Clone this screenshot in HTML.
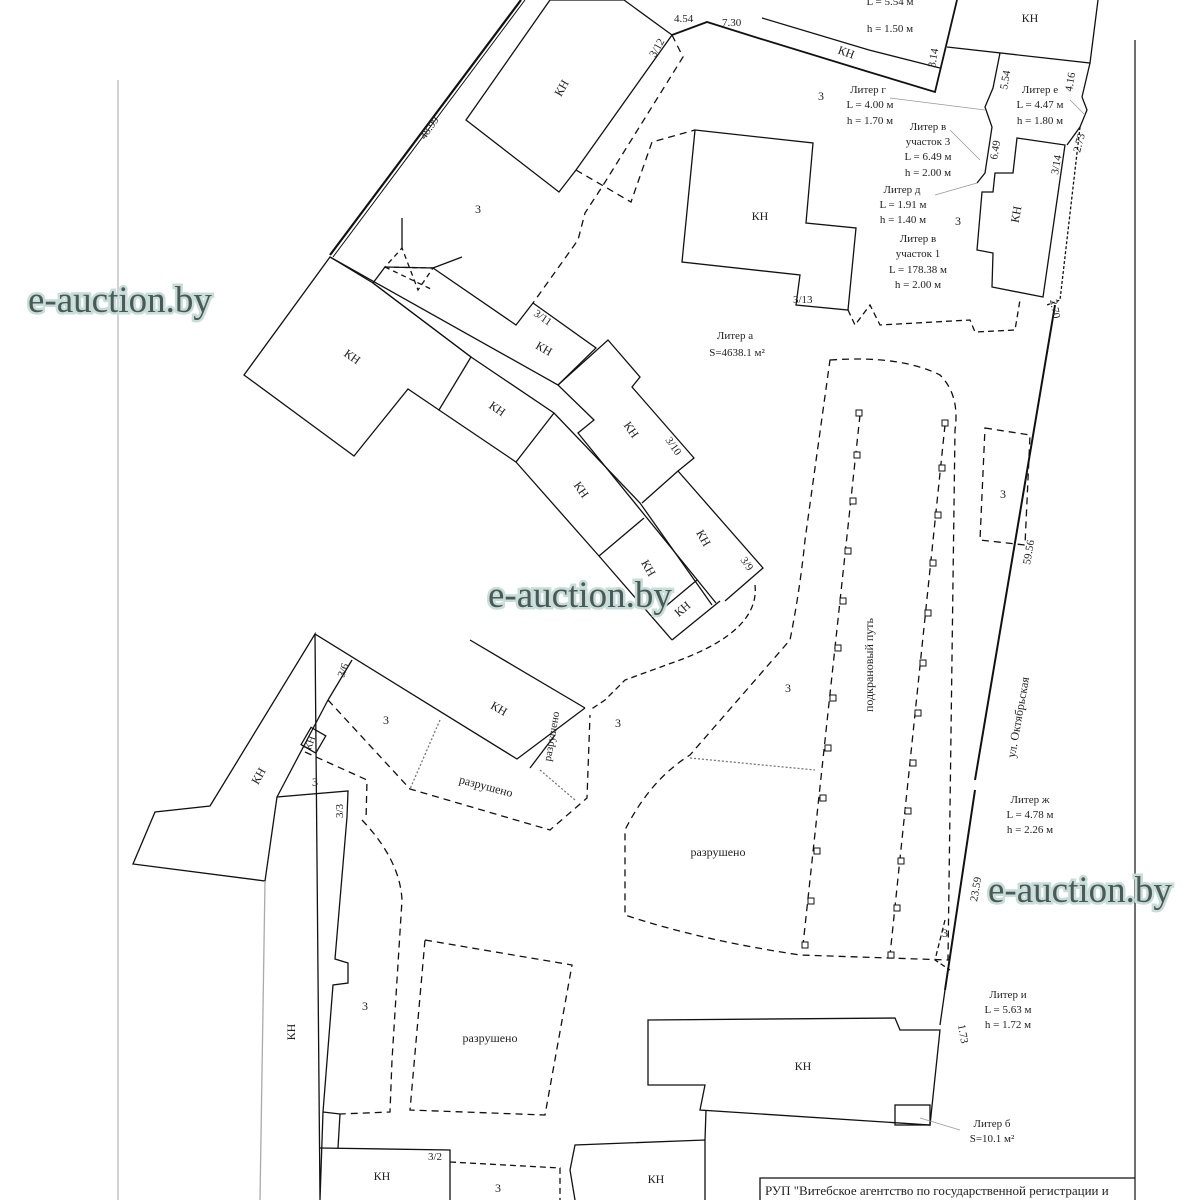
<!DOCTYPE html>
<html><head><meta charset="utf-8"><style>
html,body{margin:0;padding:0;background:#fff}
svg{display:block}
text{font-family:"Liberation Serif",serif;fill:#222}
.wm{font-family:"Liberation Serif",serif;font-size:37px;fill:#4a5a58;stroke:#c8dcd8;stroke-width:5px;paint-order:stroke}
</style></head><body>
<svg width="1200" height="1200" viewBox="0 0 1200 1200" xmlns="http://www.w3.org/2000/svg">
<rect width="1200" height="1200" fill="#fff"/>
<g fill="none" stroke="#111" stroke-width="1.3">
<line x1="118" y1="80" x2="118" y2="1200" stroke="#bbb"/>
<line x1="1135" y1="40" x2="1135" y2="1200" stroke="#222"/>
<line x1="521" y1="0" x2="330" y2="255" stroke-width="2.2"/>
<line x1="525" y1="0" x2="333" y2="257" stroke-width="1"/>
<polygon points="550,0 466,120 559,192 576,170 672,35 624,0"/>
<polyline points="672,35 707,22 758,38 869,72 935,92 957,0" stroke-width="1.8"/>
<polyline points="762,18 869,50 940,68"/>
<polyline points="947,47 1090,63 1098,0"/>
<line x1="1090" y1="63" x2="1082" y2="97"/>
<polyline points="672,35 683,57 602,187 585,213 578,240 533,303" stroke-dasharray="7,5"/>
<polyline points="576,170 631,202 652,142 695,130" stroke-dasharray="7,5"/>
<polygon points="695,130 813,143 806,223 856,228 848,310 796,305 800,275 682,262"/>
<polygon points="1017,138 1065,145 1043,297 992,287 993,253 977,250 982,192 993,192 995,173 1013,173"/>
<polyline points="1000,53 993,88 985,107 992,127 985,173 977,183"/>
<polyline points="1082,97 1087,110 1080,127 1067,145"/>
<polyline points="1080,127 1060,300 1047,305" stroke-dasharray="3,2"/>
<line x1="1055" y1="305" x2="975" y2="780" stroke-width="2"/>
<line x1="975" y1="790" x2="945" y2="990" stroke-width="2"/>
<line x1="945" y1="990" x2="940" y2="1025"/>
<polyline points="848,310 855,325 870,305 880,325 970,320 975,332 1015,330 1020,300" stroke-dasharray="6,4"/>
<!-- left KH big -->
<polygon points="330,257 373,283 471,357 439,410 408,389 354,456 244,375"/>
<polyline points="330,257 558,385 594,420 578,433 716,603"/>
<polyline points="373,283 471,357 554,413 640,503 712,605"/>
<polyline points="385,267 433,268 516,325 533,303 596,348 558,385"/>
<line x1="373" y1="283" x2="385" y2="267"/>
<polygon points="385,267 433,268 418,290 402,248" stroke-dasharray="5,4"/>
<line x1="385" y1="267" x2="433" y2="290" stroke-dasharray="5,4"/>
<line x1="402" y1="248" x2="402" y2="218"/>
<line x1="433" y1="268" x2="462" y2="257"/>
<polyline points="439,410 516,462 554,413"/>
<polyline points="516,462 599,556 672,640"/>
<polyline points="558,385 608,340 640,377 632,387 694,458 678,471 642,503"/>
<polyline points="678,471 763,568 725,601"/>
<line x1="644" y1="518" x2="599" y2="556"/>
<line x1="697" y1="580" x2="654" y2="616"/>
<line x1="720" y1="601" x2="672" y2="640"/>
<path d="M755,585 Q760,630 680,660 L625,680 605,700 590,710" stroke-dasharray="6,4"/>
<polyline points="470,640 585,708"/>
<polyline points="315,634 517,759 585,708"/>
<line x1="352" y1="660" x2="328" y2="700"/>
<line x1="555" y1="735" x2="530" y2="768"/>
<polygon points="315,634 210,806 155,812 133,864 265,881 277,797 348,791 347,817 335,959 348,963 348,983 333,985 323,1112 320,1200"/>
<line x1="328" y1="700" x2="277" y2="797"/>
<rect x="305" y="730" width="17" height="20" transform="rotate(30 313 740)"/>
<line x1="265" y1="881" x2="260" y2="1200" stroke="#aaa"/>
<polyline points="328,700 410,789 550,830 587,798 590,715" stroke-dasharray="7,5"/>
<polyline points="440,720 410,789" stroke-dasharray="2,2" stroke="#777"/>
<polyline points="540,770 575,800" stroke-dasharray="2,2" stroke="#777"/>
<polyline points="305,752 367,780 366,820" stroke-dasharray="7,5"/>
<path d="M362,820 Q400,860 402,900 L392,1060 390,1112 340,1114" stroke-dasharray="7,5"/>
<polygon points="425,940 572,965 545,1115 410,1110" stroke-dasharray="7,5"/>
<polyline points="320,1148 450,1150 450,1200"/>
<line x1="323" y1="1112" x2="340" y2="1114"/>
<line x1="340" y1="1114" x2="338" y2="1148"/>
<polyline points="450,1162 560,1168 560,1200" stroke-dasharray="6,4"/>
<polyline points="575,1200 570,1170 575,1145 705,1140 705,1200"/>
<polygon points="648,1020 895,1018 900,1030 940,1030 930,1125 700,1110 705,1085 648,1085"/>
<rect x="895" y="1105" width="35" height="20"/>
<polyline points="705,1140 706,1110"/>
<path d="M830,360 Q900,355 940,375 Q960,395 955,430 L948,960 800,955 Q700,940 625,915 L625,830 Q650,780 690,755 L790,640 Q800,590 805,540 Z" stroke-dasharray="7,5"/>
<line x1="690" y1="758" x2="815" y2="770" stroke-dasharray="2,2" stroke="#777"/>
<line x1="860" y1="415" x2="803" y2="945" stroke-dasharray="7,5"/>
<line x1="945" y1="425" x2="890" y2="955" stroke-dasharray="7,5"/>
<polygon points="985,428 1030,435 1025,545 980,540" stroke-dasharray="7,5"/>
<polyline points="945,920 935,960 950,970" stroke-dasharray="5,3"/>
<line x1="890" y1="98" x2="985" y2="110" stroke="#999" stroke-width="0.8"/>
<line x1="950" y1="130" x2="980" y2="160" stroke="#999" stroke-width="0.8"/>
<line x1="935" y1="195" x2="977" y2="183" stroke="#999" stroke-width="0.8"/>
<line x1="1070" y1="100" x2="1085" y2="115" stroke="#999" stroke-width="0.8"/>
<line x1="920" y1="1118" x2="960" y2="1130" stroke="#999" stroke-width="0.8"/>
<polyline points="760,1200 760,1178 1135,1178"/>
</g>
<g fill="#fff" stroke="#111" stroke-width="1">
<rect x="856" y="410" width="6" height="6"/><rect x="942" y="420" width="6" height="6"/>
<rect x="854" y="452" width="6" height="6"/><rect x="939" y="465" width="6" height="6"/>
<rect x="850" y="498" width="6" height="6"/><rect x="935" y="512" width="6" height="6"/>
<rect x="845" y="548" width="6" height="6"/><rect x="930" y="560" width="6" height="6"/>
<rect x="840" y="598" width="6" height="6"/><rect x="925" y="610" width="6" height="6"/>
<rect x="835" y="645" width="6" height="6"/><rect x="920" y="660" width="6" height="6"/>
<rect x="830" y="695" width="6" height="6"/><rect x="915" y="710" width="6" height="6"/>
<rect x="825" y="745" width="6" height="6"/><rect x="910" y="760" width="6" height="6"/>
<rect x="820" y="795" width="6" height="6"/><rect x="905" y="808" width="6" height="6"/>
<rect x="814" y="848" width="6" height="6"/><rect x="898" y="858" width="6" height="6"/>
<rect x="808" y="898" width="6" height="6"/><rect x="894" y="905" width="6" height="6"/>
<rect x="802" y="942" width="6" height="6"/><rect x="888" y="952" width="6" height="6"/>
</g>
<g font-size="12">
<text x="565" y="90" transform="rotate(-60 565 90)" text-anchor="middle">КН</text>
<text x="845" y="56" transform="rotate(20 845 56)" text-anchor="middle">КН</text>
<text x="1030" y="22" text-anchor="middle">КН</text>
<text x="760" y="220" text-anchor="middle">КН</text>
<text x="1020" y="215" transform="rotate(-80 1020 215)" text-anchor="middle">КН</text>
<text x="350" y="360" transform="rotate(35 350 360)" text-anchor="middle">КН</text>
<text x="542" y="352" transform="rotate(30 542 352)" text-anchor="middle">КН</text>
<text x="495" y="412" transform="rotate(35 495 412)" text-anchor="middle">КН</text>
<text x="628" y="432" transform="rotate(55 628 432)" text-anchor="middle">КН</text>
<text x="578" y="492" transform="rotate(55 578 492)" text-anchor="middle">КН</text>
<text x="700" y="540" transform="rotate(60 700 540)" text-anchor="middle">КН</text>
<text x="645" y="570" transform="rotate(60 645 570)" text-anchor="middle">КН</text>
<text x="685" y="612" transform="rotate(-40 685 612)" text-anchor="middle">КН</text>
<text x="497" y="712" transform="rotate(30 497 712)" text-anchor="middle">КН</text>
<text x="262" y="778" transform="rotate(-60 262 778)" text-anchor="middle">КН</text>
<text x="295" y="1032" transform="rotate(-90 295 1032)" text-anchor="middle">КН</text>
<text x="803" y="1070" text-anchor="middle">КН</text>
<text x="382" y="1180" text-anchor="middle">КН</text>
<text x="656" y="1183" text-anchor="middle">КН</text>
<text x="313" y="744" font-size="10" transform="rotate(-70 313 744)" text-anchor="middle">КН</text>
<text x="475" y="213">3</text><text x="818" y="100">3</text><text x="955" y="225">3</text>
<text x="1000" y="498">3</text><text x="785" y="692">3</text><text x="383" y="724">3</text>
<text x="615" y="727">3</text><text x="312" y="786">3</text><text x="362" y="1010">3</text>
<text x="942" y="937">3</text><text x="495" y="1192">3</text>
<text x="555" y="737" transform="rotate(-80 555 737)" text-anchor="middle" font-size="11">разрушено</text>
<text x="485" y="790" transform="rotate(15 485 790)" text-anchor="middle">разрушено</text>
<text x="718" y="856" text-anchor="middle">разрушено</text>
<text x="490" y="1042" text-anchor="middle">разрушено</text>
<text x="873" y="665" transform="rotate(-90 873 665)" text-anchor="middle">подкрановый путь</text>
<text x="1022" y="718" transform="rotate(-80 1022 718)" text-anchor="middle">ул. Октябрьская</text>
<text x="735" y="339" text-anchor="middle" font-size="11">Литер а</text>
<text x="737" y="356" text-anchor="middle" font-size="11">S=4638.1 м²</text>
</g>
<g font-size="11" fill="#333" text-anchor="middle">
<text x="890" y="5">L = 5.54 м</text><text x="890" y="32">h = 1.50 м</text>
<text x="868" y="93">Литер г</text><text x="870" y="108">L = 4.00 м</text><text x="870" y="124">h = 1.70 м</text>
<text x="928" y="130">Литер в</text><text x="928" y="145">участок 3</text><text x="928" y="160">L = 6.49 м</text><text x="928" y="176">h = 2.00 м</text>
<text x="902" y="193">Литер д</text><text x="903" y="208">L = 1.91 м</text><text x="903" y="223">h = 1.40 м</text>
<text x="918" y="242">Литер в</text><text x="918" y="257">участок 1</text><text x="918" y="273">L = 178.38 м</text><text x="918" y="288">h = 2.00 м</text>
<text x="1040" y="93">Литер е</text><text x="1040" y="108">L = 4.47 м</text><text x="1040" y="124">h = 1.80 м</text>
<text x="1030" y="803">Литер ж</text><text x="1030" y="818">L = 4.78 м</text><text x="1030" y="833">h = 2.26 м</text>
<text x="1008" y="998">Литер и</text><text x="1008" y="1013">L = 5.63 м</text><text x="1008" y="1028">h = 1.72 м</text>
<text x="992" y="1127">Литер б</text><text x="992" y="1142">S=10.1 м²</text>
</g>
<g font-size="11" fill="#333">
<text x="425" y="140" transform="rotate(-55 425 140)">48.99</text>
<text x="674" y="22">4.54</text><text x="722" y="26">7.30</text>
<text x="655" y="58" transform="rotate(-60 655 58)">3/12</text>
<text x="935" y="68" transform="rotate(-80 935 68)">3.14</text>
<text x="1007" y="90" transform="rotate(-80 1007 90)">5.54</text>
<text x="1072" y="92" transform="rotate(-80 1072 92)">4.16</text>
<text x="1080" y="153" transform="rotate(-75 1080 153)">2.73</text>
<text x="1058" y="175" transform="rotate(-80 1058 175)">3/14</text>
<text x="997" y="160" transform="rotate(-80 997 160)">6.49</text>
<text x="793" y="303">3/13</text>
<text x="533" y="315" transform="rotate(35 533 315)">3/11</text>
<text x="665" y="440" transform="rotate(55 665 440)">3/10</text>
<text x="740" y="560" transform="rotate(55 740 560)">3/9</text>
<text x="344" y="678" transform="rotate(-70 344 678)">3/6</text>
<text x="343" y="818" transform="rotate(-90 343 818)">3/3</text>
<text x="428" y="1160">3/2</text>
<text x="1050" y="300" transform="rotate(80 1050 300)">2.70</text>
<text x="1030" y="565" transform="rotate(-80 1030 565)">59.56</text>
<text x="977" y="902" transform="rotate(-80 977 902)">23.59</text>
<text x="958" y="1025" transform="rotate(80 958 1025)">1.73</text>
</g>
<text x="765" y="1195" font-size="13" fill="#111">РУП "Витебское агентство по государственной регистрации и</text>
<text class="wm" x="28" y="312">e-auction.by</text>
<text class="wm" x="488" y="607">e-auction.by</text>
<text class="wm" x="988" y="902">e-auction.by</text>
</svg>
</body></html>
